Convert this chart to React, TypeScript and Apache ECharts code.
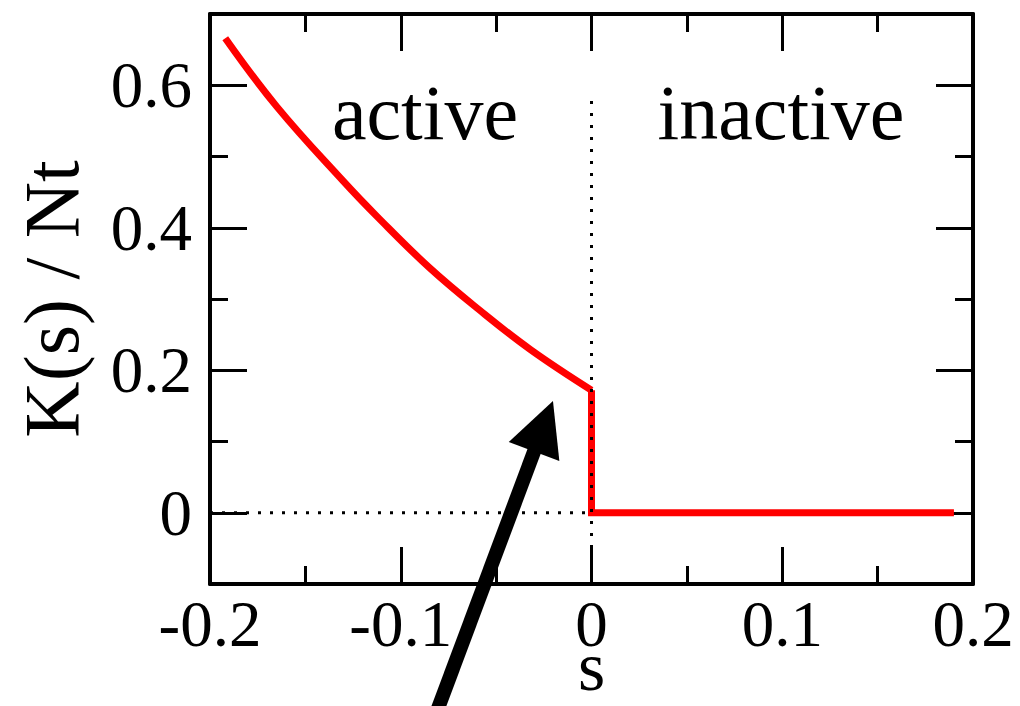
import React, { useEffect, useRef } from 'react';
import * as echarts from 'echarts';

// ---- data ----
const X_MIN = -0.2;
const X_MAX = 0.2;
const X_STEP = 0.1;
const Y_MIN = -0.1;
const Y_MAX = 0.7;
const Y_MINOR_STEP = 0.1;
const Y_MAJOR = [0, 0.2, 0.4, 0.6];

// red K(s)/Nt curve in the active region
const CURVE_S = [-0.192, -0.165, -0.13, -0.1125, -0.085, -0.0585, -0.032, 0];
const CURVE_K = [0.666, 0.57, 0.465, 0.416, 0.344, 0.284, 0.229, 0.172];
// drop and flat part in the inactive region
const STEP_S = [0, 0, 0.19];
const STEP_K = [0.172, 0, 0];
// dotted guide lines
const HDOT_S = [-0.2, 0];
const HDOT_K = [0, 0];
const VDOT_S = [0, 0];
const VDOT_K = [-0.1, 0.59];
// region labels
const REGION_LABELS = ['active', 'inactive'];
const REGION_S = [-0.0873, 0.0993];
const REGION_K = [0.562, 0.562];
// arrow annotation (data coordinates)
const ARROW_TIP = [-0.0202, 0.157];
const ARROW_TAIL = [-0.084, -0.3];

const FONT = '"Liberation Serif", "Times New Roman", serif';
const BLACK = '#000000';
const RED = '#ff0000';

const zip = (a: number[], b: number[]) => a.map((v, i) => [v, b[i]]);

export default function App() {
  const ref = useRef<HTMLDivElement>(null);

  useEffect(() => {
    if (!ref.current) return;
    const chart = echarts.init(ref.current, undefined, { renderer: 'svg' });

    const fmt = (v: number) => (Math.abs(v) < 1e-9 ? '0' : String(Math.round(v * 10) / 10));

    const xBase = (pos: 'bottom' | 'top', labels: boolean) => ({
      type: 'value',
      position: pos,
      min: X_MIN,
      max: X_MAX,
      interval: X_STEP,
      splitLine: { show: false },
      axisLine: { show: true, onZero: false, lineStyle: { color: BLACK, width: 4 } },
      axisTick: { show: true, inside: true, length: 37, lineStyle: { color: BLACK, width: 3 } },
      minorTick: { show: true, splitNumber: 2, length: 18, lineStyle: { color: BLACK, width: 3 } },
      axisLabel: {
        show: labels,
        margin: 17,
        color: BLACK,
        fontFamily: FONT,
        fontSize: 65,
        lineHeight: 46,
        formatter: fmt,
      },
      ...(labels
        ? {
            name: 's',
            nameLocation: 'middle',
            nameGap: 60,
            nameMoveOverlap: false,
            nameTextStyle: { color: BLACK, fontFamily: FONT, fontSize: 70, lineHeight: 44 },
          }
        : {}),
    });

    const yMinor = (pos: 'left' | 'right', withName: boolean) => ({
      type: 'value',
      position: pos,
      min: Y_MIN,
      max: Y_MAX,
      interval: Y_MINOR_STEP,
      splitLine: { show: false },
      axisLine: { show: true, onZero: false, lineStyle: { color: BLACK, width: 4 } },
      axisTick: { show: true, inside: true, length: 18, lineStyle: { color: BLACK, width: 3 } },
      axisLabel: { show: false },
      ...(withName
        ? {
            name: 'K(s) / Nt',
            nameLocation: 'middle',
            nameGap: 120,
            nameMoveOverlap: false,
            nameTextStyle: { color: BLACK, fontFamily: FONT, fontSize: 78 },
          }
        : {}),
    });

    const yMajor = (pos: 'left' | 'right', labels: boolean) => ({
      type: 'value',
      position: pos,
      min: Y_MIN,
      max: Y_MAX,
      splitLine: { show: false },
      axisLine: { show: false, onZero: false },
      axisTick: {
        show: true,
        inside: true,
        length: 37,
        customValues: Y_MAJOR,
        lineStyle: { color: BLACK, width: 3 },
      },
      axisLabel: {
        show: labels,
        customValues: Y_MAJOR,
        margin: 18,
        color: BLACK,
        fontFamily: FONT,
        fontSize: 65,
        formatter: fmt,
      },
    });

    const option: any = {
      animation: false,
      backgroundColor: '#ffffff',
      grid: {
        left: 210,
        right: 47,
        top: 14,
        bottom: 122,
        containLabel: false,
        outerBoundsMode: 'none',
      },
      xAxis: [xBase('bottom', true), xBase('top', false)],
      yAxis: [yMinor('left', true), yMinor('right', false), yMajor('left', true), yMajor('right', false)],
      series: [
        {
          type: 'line',
          data: zip(CURVE_S, CURVE_K),
          smooth: 0.4,
          symbol: 'none',
          lineStyle: { color: RED, width: 7 },
          z: 2,
        },
        {
          type: 'line',
          data: zip(STEP_S, STEP_K),
          symbol: 'none',
          lineStyle: { color: RED, width: 7, join: 'miter' },
          z: 2,
        },
        {
          type: 'line',
          data: zip(HDOT_S, HDOT_K),
          symbol: 'none',
          lineStyle: { color: BLACK, width: 3, type: [3, 9], cap: 'butt' },
          z: 3,
        },
        {
          type: 'line',
          data: zip(VDOT_S, VDOT_K),
          symbol: 'none',
          lineStyle: { color: BLACK, width: 3, type: [3, 9], cap: 'butt' },
          z: 3,
        },
      ],
    };
    chart.setOption(option);

    const px = (p: number[]) => chart.convertToPixel({ xAxisIndex: 0, yAxisIndex: 0 }, p) as number[];
    const tip = px(ARROW_TIP);
    const tail = px(ARROW_TAIL);
    const dx = tip[0] - tail[0];
    const dy = tip[1] - tail[1];
    const len = Math.hypot(dx, dy);
    const ux = dx / len;
    const uy = dy / len;
    const headLen = 54;
    const headHalf = 27;
    const bx = tip[0] - ux * headLen;
    const by = tip[1] - uy * headLen;
    const nx = -uy;
    const ny = ux;

    const graphics: any[] = REGION_LABELS.map((t, i) => {
      const p = px([REGION_S[i], REGION_K[i]]);
      return {
        type: 'text',
        x: p[0],
        y: p[1],
        z: 10,
        style: {
          text: t,
          fill: BLACK,
          font: `78px ${FONT}`,
          align: 'center',
          verticalAlign: 'middle',
        },
      };
    });
    graphics.push({
      type: 'line',
      z: 20,
      shape: { x1: tail[0], y1: tail[1], x2: bx + ux * 4, y2: by + uy * 4 },
      style: { stroke: BLACK, lineWidth: 14 },
    });
    graphics.push({
      type: 'polygon',
      z: 21,
      shape: {
        points: [
          [tip[0], tip[1]],
          [bx + nx * headHalf, by + ny * headHalf],
          [bx - nx * headHalf, by - ny * headHalf],
        ],
      },
      style: { fill: BLACK },
    });
    chart.setOption({ graphic: graphics });

    return () => chart.dispose();
  }, []);

  return (
    <div
      ref={ref}
      style={{ position: 'absolute', left: 0, top: 0, width: 1020, height: 706, background: '#fff' }}
    />
  );
}
